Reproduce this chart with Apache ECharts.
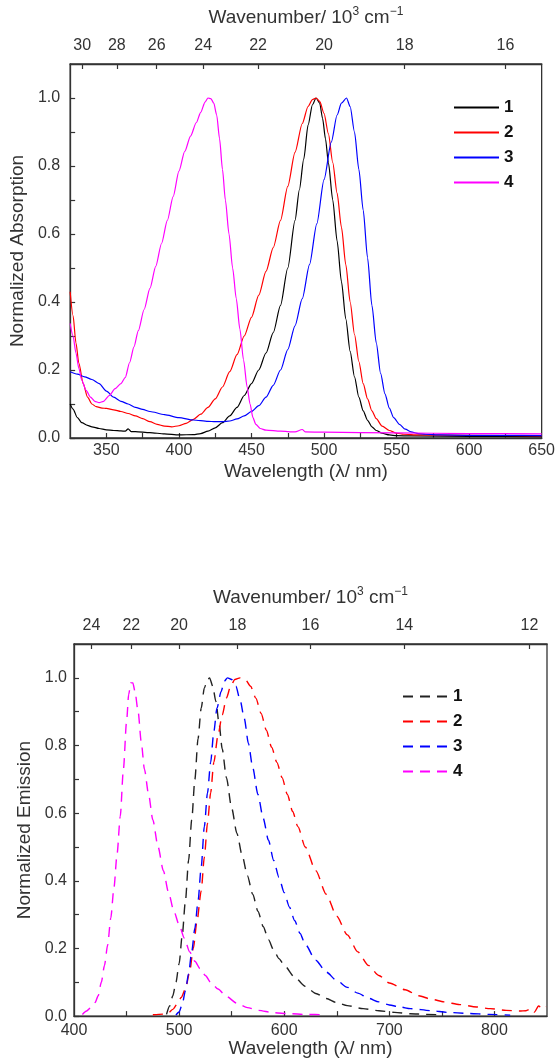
<!DOCTYPE html>
<html>
<head>
<meta charset="utf-8">
<script src="https://cdn.jsdelivr.net/npm/echarts@6/dist/echarts.min.js"></script>
<style>
html,body{margin:0;padding:0;background:#fff;}
#chart{width:558px;height:1059px;}
</style>
</head>
<body>
<div id="chart"></div>
<script>
// ---------- tick labels ----------
const absWlLabels = [350, 400, 450, 500, 550, 600, 650];
const absWlTicks = [350, 375, 400, 425, 450, 475, 500, 525, 550, 575, 600, 625];
const absWavenumbers = [30, 28, 26, 24, 22, 20, 18, 16];
const emWlLabels = [400, 500, 600, 700, 800];
const emWlTicks = [450, 500, 550, 600, 650, 700, 750, 800];
const emWavenumbers = [24, 22, 20, 18, 16, 14, 12];
const yLabels = [0, 0.2, 0.4, 0.6, 0.8, 1.0];
const yTicks = [0, 0.1, 0.2, 0.3, 0.4, 0.5, 0.6, 0.7, 0.8, 0.9, 1.0];

// ---------- absorption (wavelength nm, normalized) ----------
const abs1Wl = [325,327,330,333,337,340,345,350,355,360,363,365,367,370,380,390,400,410,415,420,425,430,435,440,445,450,455,460,465,470,475,480,483,486,489,492,494.5,497,499,501,503,506,509,512,515,518,521,524,527,530,533,536,540,545,550,560,600,650];
const abs1 = [0.10,0.085,0.06,0.045,0.037,0.033,0.028,0.024,0.022,0.021,0.020,0.027,0.019,0.019,0.016,0.012,0.009,0.010,0.013,0.020,0.030,0.045,0.065,0.09,0.125,0.16,0.20,0.25,0.31,0.39,0.50,0.64,0.73,0.82,0.92,0.98,1.0,0.985,0.94,0.88,0.81,0.70,0.58,0.46,0.35,0.255,0.18,0.12,0.08,0.052,0.033,0.022,0.014,0.009,0.007,0.006,0.005,0.004];

const abs2Wl = [325,327,329,331,334,337,340,343,347,350,355,360,365,370,375,380,385,390,395,400,405,410,415,420,425,430,435,440,445,450,455,460,465,470,475,480,485,489,492,494.5,497,500,503,506,509,512,515,518,521,524,527,530,533,536,540,545,550,555,565,600,650];
const abs2 = [0.43,0.36,0.28,0.22,0.16,0.12,0.10,0.092,0.088,0.087,0.083,0.078,0.072,0.065,0.057,0.048,0.040,0.035,0.033,0.036,0.043,0.055,0.07,0.09,0.115,0.15,0.195,0.245,0.30,0.355,0.42,0.49,0.56,0.64,0.74,0.84,0.925,0.975,0.995,1.0,0.99,0.955,0.895,0.81,0.72,0.62,0.51,0.40,0.305,0.225,0.16,0.115,0.08,0.057,0.035,0.022,0.014,0.011,0.009,0.008,0.006];

const abs3Wl = [325,330,335,340,345,350,355,360,365,370,375,380,390,400,410,420,425,430,435,440,445,450,455,460,465,470,475,480,485,490,495,500,505,509,512,515.5,518,521,524,527,530,533,536,539,542,545,548,552,556,560,565,570,580,600,625,650];
const abs3 = [0.195,0.188,0.18,0.172,0.16,0.138,0.12,0.108,0.10,0.09,0.084,0.078,0.069,0.06,0.053,0.049,0.048,0.048,0.05,0.056,0.065,0.078,0.095,0.12,0.155,0.2,0.26,0.33,0.41,0.51,0.63,0.76,0.87,0.95,0.985,1.0,0.975,0.9,0.79,0.67,0.53,0.39,0.28,0.19,0.13,0.088,0.06,0.04,0.026,0.018,0.013,0.011,0.009,0.008,0.008,0.007];

const abs4Wl = [325,327,329,331,333,336,339,342,345,348,352,356,360,363,366,369,372,376,380,384,388,392,396,400,404,408,412,415,418,420,422,424,426,428,430,432,434.5,437,439.5,442,444.5,447,449,451,453,456,460,470,480,485,487,500,550,600,650];
const abs4 = [0.337,0.30,0.25,0.205,0.17,0.14,0.12,0.108,0.104,0.108,0.125,0.145,0.16,0.178,0.222,0.268,0.316,0.378,0.44,0.505,0.572,0.64,0.71,0.785,0.843,0.888,0.928,0.958,0.988,1.0,0.998,0.985,0.95,0.88,0.79,0.70,0.60,0.50,0.41,0.32,0.23,0.15,0.10,0.06,0.04,0.028,0.023,0.02,0.018,0.025,0.018,0.017,0.015,0.013,0.012];

// ---------- emission (wavelength nm, normalized) ----------
const em1Wl = [488,491,494,497,500,503,506,509,512,515,518,521,524,527,529,532,535,538,541,545,550,555,560,565,570,575,580,585,590,595,600,610,620,630,640,650,660,675,690,705,720,735,750];
const em1 = [0.005,0.03,0.06,0.10,0.155,0.24,0.34,0.46,0.58,0.70,0.82,0.91,0.97,0.995,1.0,0.975,0.93,0.865,0.79,0.705,0.615,0.54,0.475,0.415,0.36,0.31,0.265,0.226,0.195,0.17,0.15,0.115,0.088,0.067,0.052,0.04,0.031,0.022,0.016,0.011,0.007,0.005,0.004];

const em2Wl = [475,485,490,494,498,502,506,510,513.5,517,521,524,527,530,533,537,541,545,549,553,558,563,568,573,578,583,588,593,598,603,608,613,620,630,640,650,660,670,680,690,700,715,728,740,752,767,783,796,811,824,830,835,838,842,846,849];
const em2 = [0.004,0.006,0.01,0.02,0.035,0.055,0.08,0.13,0.2,0.28,0.37,0.47,0.57,0.66,0.75,0.83,0.89,0.94,0.975,0.995,1.0,0.995,0.975,0.94,0.895,0.845,0.795,0.75,0.705,0.655,0.605,0.56,0.50,0.43,0.36,0.295,0.24,0.19,0.15,0.12,0.098,0.078,0.06,0.05,0.042,0.034,0.027,0.022,0.017,0.015,0.016,0.022,0.012,0.03,0.02,0.028];

const em3Wl = [497,500,503,506,509,512,515,518,521,524,527,530,533,536,540,543,546,550,554,558,562,566,570,575,580,585,590,595,600,605,610,615,620,630,640,650,660,670,680,690,700,710,720,740,755,775,795,815];
const em3 = [0.003,0.012,0.035,0.075,0.125,0.19,0.26,0.34,0.44,0.56,0.66,0.75,0.84,0.91,0.96,0.99,1.0,0.995,0.975,0.935,0.88,0.805,0.735,0.655,0.585,0.52,0.46,0.41,0.365,0.322,0.282,0.245,0.212,0.165,0.13,0.105,0.085,0.068,0.053,0.042,0.033,0.027,0.022,0.016,0.011,0.008,0.005,0.003];

const em4Wl = [408,412,416,420,423,426,429,432,435,438,441,444,447,450,452,454,456,458,461,464,467,471,475,480,485,490,495,500,505,510,515,520,525,530,537,545,555,565,575,590,605,620,640];
const em4 = [0.005,0.015,0.025,0.04,0.06,0.1,0.15,0.21,0.29,0.38,0.48,0.59,0.73,0.87,0.95,0.985,0.985,0.96,0.9,0.81,0.73,0.655,0.58,0.5,0.43,0.365,0.31,0.27,0.23,0.19,0.162,0.14,0.12,0.1,0.08,0.058,0.038,0.025,0.017,0.01,0.007,0.005,0.004];

// ---------- build ----------
const FONT = "'Liberation Sans', Arial, sans-serif";
const TXT = '#333';
const COLORS = ['#000000', '#ff0000', '#0000ff', '#ff00ff'];
const pairs = (xs, ys) => xs.map((x, i) => [x, ys[i]]);

function wlAxis(gridIndex, min, max, labels, ticks, margin, nameGap) {
  return {
    type: 'value', gridIndex, position: 'bottom', min, max,
    name: 'Wavelength (λ/ nm)', nameLocation: 'middle', nameGap,
    nameTextStyle: { fontFamily: FONT, fontSize: 19, color: TXT },
    axisLine: { show: true, onZero: false, lineStyle: { color: '#333', width: 1.3 } },
    axisTick: { show: true, inside: true, length: 5, customValues: ticks, lineStyle: { color: '#333', width: 1.2 } },
    axisLabel: { show: true, customValues: labels, margin, fontFamily: FONT, fontSize: 16, color: TXT },
    splitLine: { show: false }
  };
}
function wnAxis(gridIndex, min, max, wavenumbers, margin, nameGap) {
  const vals = wavenumbers.map(k => 10000 / k);
  return {
    type: 'value', gridIndex, position: 'top', min, max,
    name: '{t|Wavenumber/ 10}{s|3}{t| cm}{s|−1}', nameLocation: 'middle', nameGap,
    nameTextStyle: {
      fontFamily: FONT, fontSize: 19, color: TXT,
      rich: {
        t: { fontFamily: FONT, fontSize: 19, color: TXT, lineHeight: 24 },
        s: { fontFamily: FONT, fontSize: 12, color: TXT, lineHeight: 24, verticalAlign: 'top' }
      }
    },
    axisLine: { show: true, onZero: false, lineStyle: { color: '#333', width: 1.3 } },
    axisTick: { show: true, inside: true, length: 5, customValues: vals, lineStyle: { color: '#333', width: 1.2 } },
    axisLabel: { show: true, customValues: vals, margin, fontFamily: FONT, fontSize: 16, color: TXT,
      formatter: v => String(Math.round(10000 / v)) },
    splitLine: { show: false }
  };
}
function yAxis(gridIndex, name, margin, nameGap) {
  return {
    type: 'value', gridIndex, min: 0, max: 1.1,
    name, nameLocation: 'middle', nameGap,
    nameTextStyle: { fontFamily: FONT, fontSize: 19, color: TXT },
    axisLine: { show: true, onZero: false, lineStyle: { color: '#333', width: 1.3 } },
    axisTick: { show: true, inside: true, length: 5, customValues: yTicks, lineStyle: { color: '#333', width: 1.2 } },
    axisLabel: { show: true, customValues: yLabels, margin, fontFamily: FONT, fontSize: 16, color: TXT,
      formatter: v => Number(v).toFixed(1) },
    splitLine: { show: false }
  };
}
function lineSeries(name, xIdx, yIdx, data, color, dashed) {
  return {
    name, type: 'line', xAxisIndex: xIdx, yAxisIndex: yIdx, data,
    showSymbol: false, symbol: 'none', smooth: 0.25, smoothMonotone: 'x',
    color,
    lineStyle: { color, width: dashed ? 1.4 : 1.2, type: dashed ? [10, 7] : 'solid' },
    animation: false, silent: true
  };
}
function legend(names, left, top) {
  return {
    data: names, orient: 'vertical', left, top,
    itemWidth: 45, itemHeight: 12, itemGap: 8,
    itemStyle: { opacity: 0 },
    lineStyle: { width: 2 },
    formatter: n => n.slice(1),
    textStyle: { fontFamily: FONT, fontSize: 17, fontWeight: 'bold', color: '#111' },
    selectedMode: false
  };
}

const chart = echarts.init(document.getElementById('chart'), null, { renderer: 'canvas' });
chart.setOption({
  backgroundColor: '#fff',
  animation: false,
  grid: [
    { left: 70, top: 64, width: 473, height: 374, show: true, borderColor: '#333', borderWidth: 1.3, backgroundColor: 'transparent' },
    { left: 74, top: 644, width: 473, height: 374, show: true, borderColor: '#333', borderWidth: 1.3, backgroundColor: 'transparent' }
  ],
  xAxis: [
    wlAxis(0, 325, 650, absWlLabels, absWlTicks, 5, 24),
    wnAxis(0, 325, 650, absWavenumbers, 10, 34),
    wlAxis(1, 400, 850, emWlLabels, emWlTicks, 6, 20),
    wnAxis(1, 400, 850, emWavenumbers, 10, 34)
  ],
  yAxis: [
    yAxis(0, 'Normalized Absorption', 10, 40),
    yAxis(1, 'Normalized Emission', 7, 40)
  ],
  legend: [
    legend(['a1', 'a2', 'a3', 'a4'], 448, 94),
    legend(['e1', 'e2', 'e3', 'e4'], 397, 683)
  ],
  series: [
    lineSeries('a1', 0, 0, pairs(abs1Wl, abs1), COLORS[0], false),
    lineSeries('a2', 0, 0, pairs(abs2Wl, abs2), COLORS[1], false),
    lineSeries('a3', 0, 0, pairs(abs3Wl, abs3), COLORS[2], false),
    lineSeries('a4', 0, 0, pairs(abs4Wl, abs4), COLORS[3], false),
    lineSeries('e1', 2, 1, pairs(em1Wl, em1), '#222222', true),
    lineSeries('e2', 2, 1, pairs(em2Wl, em2), COLORS[1], true),
    lineSeries('e3', 2, 1, pairs(em3Wl, em3), COLORS[2], true),
    lineSeries('e4', 2, 1, pairs(em4Wl, em4), COLORS[3], true)
  ]
});
</script>
</body>
</html>
